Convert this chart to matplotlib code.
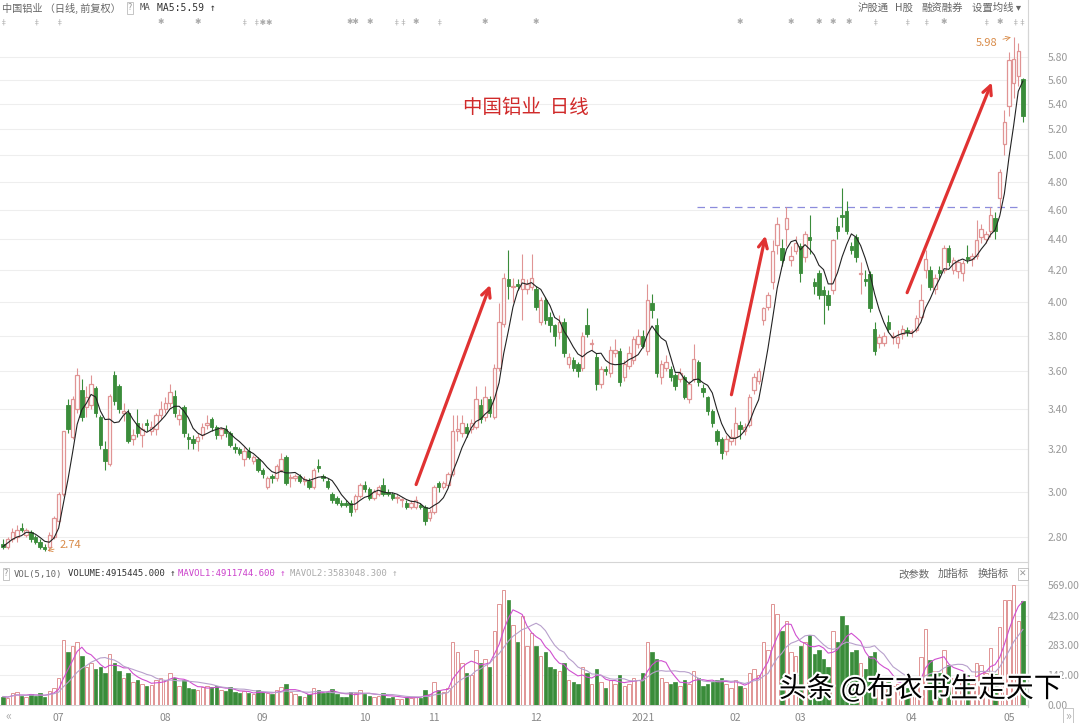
import numpy as np
import pandas as pd
import matplotlib
matplotlib.use("Agg")
import matplotlib.pyplot as plt
import matplotlib.patheffects as pe
from matplotlib.lines import Line2D
from matplotlib.ticker import FixedLocator, NullLocator, FixedFormatter

plt.rcParams['font.family'] = ['Noto Sans CJK SC', 'DejaVu Sans']

# daily candles, 2020-06 .. 2021-05 (forward adjusted)
opens = [
    2.77, 2.76, 2.79, 2.80, 2.84, 2.81, 2.82, 2.80, 2.78, 2.76,
    2.76, 2.80, 2.87, 2.99, 3.42, 3.26, 3.40, 3.50, 3.41, 3.42,
    3.51, 3.36, 3.20, 3.13, 3.58, 3.52, 3.38, 3.38, 3.25, 3.33,
    3.27, 3.33, 3.29, 3.30, 3.37, 3.40, 3.43, 3.47, 3.35, 3.41,
    3.26, 3.25, 3.24, 3.27, 3.32, 3.35, 3.31, 3.27, 3.30, 3.28,
    3.21, 3.20, 3.15, 3.19, 3.14, 3.15, 3.10, 3.02, 3.07, 3.06,
    3.10, 3.16, 3.06, 3.06, 3.07, 3.05, 3.05, 3.02, 3.12, 3.07,
    3.05, 2.99, 2.97, 2.95, 2.95, 2.95, 2.92, 2.98, 3.03, 3.01,
    2.97, 2.99, 3.03, 3.00, 2.99, 2.97, 2.96, 2.95, 2.93, 2.93,
    2.94, 2.93, 2.88, 2.91, 3.04, 3.02, 3.03, 3.08, 3.29, 3.28,
    3.31, 3.30, 3.31, 3.42, 3.36, 3.45, 3.36, 3.62, 3.87, 4.14,
    4.09, 4.11, 4.08, 4.08, 4.09, 4.08, 3.88, 4.01, 3.91, 3.86,
    3.82, 3.88, 3.64, 3.66, 3.64, 3.62, 3.86, 3.75, 3.68, 3.53,
    3.61, 3.59, 3.70, 3.71, 3.57, 3.63, 3.66, 3.75, 3.80, 3.71,
    3.99, 3.86, 3.57, 3.62, 3.61, 3.58, 3.56, 3.57, 3.45, 3.56,
    3.65, 3.51, 3.46, 3.39, 3.29, 3.25, 3.19, 3.24, 3.26, 3.32,
    3.29, 3.32, 3.50, 3.55, 3.89, 3.97, 4.12, 4.36, 4.34, 4.47,
    4.26, 4.32, 4.35, 4.28, 4.41, 4.12, 4.18, 4.07, 4.04, 4.07,
    4.49, 4.56, 4.59, 4.35, 4.41, 4.17, 4.14, 4.17, 3.84, 3.76,
    3.76, 3.88, 3.79, 3.76, 3.81, 3.83, 3.82, 3.83, 3.91, 4.20,
    4.20, 4.08, 4.20, 4.20, 4.34, 4.20, 4.19, 4.18, 4.28, 4.27,
    4.29, 4.41, 4.40, 4.45, 4.54, 4.68, 5.08, 5.38, 5.57, 5.63, 5.61,
]
highs = [
    2.79, 2.80, 2.84, 2.85, 2.86, 2.84, 2.83, 2.81, 2.79, 2.77,
    2.82, 2.89, 3.00, 3.29, 3.45, 3.47, 3.62, 3.56, 3.52, 3.58,
    3.52, 3.37, 3.24, 3.48, 3.60, 3.53, 3.43, 3.40, 3.30, 3.40,
    3.33, 3.35, 3.34, 3.38, 3.44, 3.46, 3.53, 3.50, 3.40, 3.42,
    3.28, 3.27, 3.28, 3.33, 3.37, 3.36, 3.32, 3.31, 3.32, 3.29,
    3.23, 3.21, 3.21, 3.21, 3.17, 3.16, 3.11, 3.07, 3.08, 3.13,
    3.18, 3.17, 3.08, 3.08, 3.08, 3.07, 3.06, 3.11, 3.15, 3.08,
    3.06, 3.00, 2.98, 2.96, 2.96, 2.96, 2.99, 3.04, 3.05, 3.02,
    3.01, 3.03, 3.06, 3.01, 3.00, 2.99, 2.97, 2.96, 2.96, 2.98,
    2.95, 2.94, 2.92, 3.03, 3.05, 3.05, 3.09, 3.37, 3.37, 3.37,
    3.33, 3.35, 3.52, 3.45, 3.52, 3.47, 3.64, 3.99, 4.18, 4.33,
    4.15, 4.14, 4.30, 4.14, 4.30, 4.10, 4.03, 4.03, 3.94, 3.87,
    3.92, 3.90, 3.70, 3.68, 3.65, 3.82, 3.96, 3.78, 3.70, 3.63,
    3.63, 3.74, 3.78, 3.73, 3.66, 3.74, 3.80, 3.84, 3.83, 4.11,
    4.05, 3.90, 3.66, 3.69, 3.63, 3.59, 3.62, 3.58, 3.55, 3.75,
    3.66, 3.53, 3.47, 3.40, 3.30, 3.26, 3.27, 3.30, 3.41, 3.34,
    3.33, 3.48, 3.59, 3.62, 3.97, 4.06, 4.39, 4.55, 4.40, 4.62,
    4.35, 4.42, 4.37, 4.45, 4.56, 4.15, 4.20, 4.10, 4.07, 4.40,
    4.55, 4.75, 4.66, 4.38, 4.43, 4.25, 4.20, 4.19, 3.88, 3.81,
    3.82, 3.92, 3.82, 3.83, 3.86, 3.85, 3.84, 3.92, 4.11, 4.33,
    4.22, 4.17, 4.22, 4.36, 4.36, 4.28, 4.27, 4.26, 4.36, 4.31,
    4.53, 4.50, 4.45, 4.62, 4.58, 4.89, 5.35, 5.84, 5.98, 5.92, 5.62,
]
lows = [
    2.75, 2.75, 2.78, 2.78, 2.82, 2.80, 2.78, 2.77, 2.75, 2.74,
    2.74, 2.79, 2.86, 2.98, 3.28, 3.25, 3.38, 3.34, 3.36, 3.40,
    3.36, 3.20, 3.10, 3.12, 3.42, 3.38, 3.34, 3.23, 3.22, 3.26,
    3.21, 3.29, 3.27, 3.27, 3.35, 3.38, 3.41, 3.36, 3.32, 3.26,
    3.20, 3.20, 3.19, 3.25, 3.30, 3.29, 3.25, 3.25, 3.26, 3.21,
    3.18, 3.17, 3.12, 3.15, 3.13, 3.09, 3.06, 3.01, 3.04, 3.05,
    3.09, 3.03, 3.02, 3.05, 3.04, 3.03, 3.01, 3.01, 3.09, 3.05,
    3.01, 2.95, 2.94, 2.93, 2.93, 2.89, 2.91, 2.97, 3.00, 2.96,
    2.96, 2.98, 2.98, 2.98, 2.96, 2.95, 2.93, 2.92, 2.92, 2.92,
    2.92, 2.85, 2.87, 2.90, 3.00, 3.01, 3.02, 3.07, 3.24, 3.26,
    3.26, 3.28, 3.30, 3.33, 3.34, 3.36, 3.35, 3.60, 3.85, 4.02,
    4.00, 4.07, 3.89, 4.05, 4.07, 3.95, 3.86, 3.87, 3.82, 3.74,
    3.78, 3.68, 3.62, 3.60, 3.57, 3.60, 3.79, 3.72, 3.50, 3.51,
    3.58, 3.57, 3.68, 3.52, 3.55, 3.61, 3.64, 3.73, 3.73, 3.69,
    3.90, 3.57, 3.53, 3.60, 3.55, 3.50, 3.54, 3.45, 3.43, 3.54,
    3.52, 3.46, 3.37, 3.31, 3.22, 3.15, 3.17, 3.22, 3.22, 3.25,
    3.27, 3.31, 3.48, 3.53, 3.86, 3.95, 4.08, 4.30, 4.22, 4.35,
    4.22, 4.30, 4.12, 4.25, 4.30, 4.05, 4.02, 3.87, 3.95, 4.05,
    4.40, 4.48, 4.43, 4.30, 4.25, 4.05, 4.10, 3.94, 3.69, 3.73,
    3.74, 3.82, 3.75, 3.73, 3.78, 3.80, 3.79, 3.82, 3.89, 4.15,
    4.07, 4.05, 4.15, 4.18, 4.22, 4.17, 4.15, 4.13, 4.24, 4.22,
    4.27, 4.37, 4.37, 4.41, 4.40, 4.60, 5.00, 5.30, 5.45, 5.55, 5.25,
]
closes = [
    2.76, 2.79, 2.82, 2.83, 2.83, 2.83, 2.79, 2.78, 2.76, 2.75,
    2.81, 2.88, 2.99, 3.29, 3.30, 3.45, 3.58, 3.36, 3.46, 3.53,
    3.38, 3.22, 3.14, 3.47, 3.44, 3.40, 3.39, 3.24, 3.27, 3.28,
    3.30, 3.32, 3.31, 3.37, 3.40, 3.43, 3.49, 3.38, 3.37, 3.28,
    3.25, 3.23, 3.26, 3.31, 3.33, 3.31, 3.27, 3.30, 3.28, 3.22,
    3.20, 3.18, 3.19, 3.16, 3.16, 3.10, 3.08, 3.06, 3.06, 3.12,
    3.15, 3.04, 3.06, 3.07, 3.05, 3.05, 3.02, 3.10, 3.11, 3.06,
    3.02, 2.96, 2.95, 2.94, 2.94, 2.91, 2.98, 3.03, 3.01, 2.97,
    3.00, 3.02, 2.99, 2.99, 2.97, 2.97, 2.96, 2.93, 2.95, 2.96,
    2.93, 2.87, 2.91, 3.02, 3.02, 3.04, 3.08, 3.29, 3.29, 3.33,
    3.28, 3.33, 3.45, 3.35, 3.46, 3.38, 3.62, 3.88, 4.15, 4.10,
    4.09, 4.10, 4.14, 4.11, 4.15, 3.97, 4.01, 3.89, 3.86, 3.80,
    3.88, 3.70, 3.68, 3.62, 3.60, 3.80, 3.81, 3.75, 3.53, 3.61,
    3.60, 3.72, 3.72, 3.54, 3.64, 3.70, 3.78, 3.80, 3.74, 4.01,
    3.95, 3.59, 3.64, 3.65, 3.57, 3.52, 3.59, 3.46, 3.53, 3.67,
    3.54, 3.49, 3.39, 3.33, 3.24, 3.18, 3.25, 3.26, 3.33, 3.30,
    3.31, 3.46, 3.57, 3.60, 3.96, 4.04, 4.32, 4.50, 4.26, 4.54,
    4.29, 4.37, 4.18, 4.43, 4.39, 4.10, 4.04, 4.04, 3.98, 4.39,
    4.45, 4.55, 4.45, 4.33, 4.28, 4.17, 4.13, 3.96, 3.71, 3.79,
    3.80, 3.84, 3.79, 3.79, 3.84, 3.82, 3.82, 3.90, 4.01, 4.27,
    4.09, 4.15, 4.18, 4.34, 4.25, 4.26, 4.25, 4.24, 4.27, 4.29,
    4.39, 4.47, 4.43, 4.56, 4.45, 4.87, 5.25, 5.77, 5.78, 5.85, 5.30,
]
# volume, 10k shares
volumes = [
    40, 35, 55, 60, 45, 40, 50, 45, 55, 40, 65, 80,
    130, 310, 250, 280, 300, 230, 180, 200, 170, 180, 150, 240, 200, 160, 130,
    150, 110, 120, 100, 90, 95, 120, 130,
    120, 150, 130, 90, 120, 80, 75, 70, 85, 90, 85, 90, 70, 65, 85, 60, 55, 65,
    55, 50, 70,
    60, 55, 50, 70, 85, 100, 60, 50, 45, 40, 50, 80, 70, 55, 60, 75, 50, 40, 40,
    60, 55, 70,
    50, 45, 40, 45, 55, 35, 40, 30, 30, 40, 35, 40, 35, 70, 50, 110,
    70, 60, 80, 300, 250, 200, 150, 140, 260, 200, 220, 180, 350, 480, 545, 500,
    380, 300, 420, 280, 340,
    280, 230, 250, 180, 170, 160, 200, 120, 110, 100, 180, 150, 100, 170, 110, 80,
    120, 100, 140, 90, 100, 130, 120,
    150, 300, 250, 220, 130, 110, 100, 110, 90, 120, 100, 160, 130, 90, 100, 110,
    120, 130, 100, 80,
    120, 90, 80, 150, 170, 140, 300, 260, 480, 430, 350, 400, 250, 230, 280,
    300, 330, 240, 260, 220, 180, 350, 300, 420, 380, 250, 260, 200, 170, 230, 250,
    130, 120, 110, 90, 100, 95, 80,
    90, 120, 228, 360, 213, 160, 150, 260, 190, 130, 120, 110, 140, 100, 200, 190,
    150, 270, 147, 370, 498, 498, 569, 399.5, 491.5,
]

month_labels = ["07", "08", "09", "10", "11", "12", "2021", "02", "03", "04", "05"]
month_starts = [12, 35, 56, 78, 93, 115, 138, 158, 172, 196, 217]
price_ticks = [2.8, 3.0, 3.2, 3.4, 3.6, 3.8, 4.0, 4.2, 4.4, 4.6, 4.8, 5.0, 5.2, 5.4, 5.6, 5.8]
vol_ticks = [0, 142, 283, 423, 569]

# event markers on the top strip (candle index, symbol group)
event_idx = [0, 7, 12, 34, 42, 52, 56, 75.5, 79, 85.5, 89, 94, 104, 115,
             159, 170, 176, 179, 182.5, 188, 195, 199, 203, 212, 215, 219]
event_sym = ['‡', '‡', '‡', '✱', '✱', '‡', '‡✱✱', '✱✱', '✱', '‡‡', '✱', '‡', '✱', '✱',
             '✱', '✱', '✱', '✱', '✱', '‡', '‡', '‡', '✱', '‡', '✱', '‡‡']

# hand-drawn trend arrows (from, to) in (index, price)
trend_arrows = [((88.9, 3.02), (105.3, 4.12)),
                ((157.0, 3.46), (164.6, 4.44)),
                ((194.8, 4.04), (213.5, 5.60))]
resist_level = 4.62

n = min(len(opens), len(highs), len(lows), len(closes), len(volumes))
x = np.arange(n)
o = np.array(opens[:n]); h = np.array(highs[:n]); l = np.array(lows[:n]); c = np.array(closes[:n])
v = np.array(volumes[:n], dtype=float)
up = c >= o

RED = '#e09494'
GREEN = '#3a8c3a'

W, H = 1080, 723
fig = plt.figure(figsize=(W / 100, H / 100), dpi=100)
fig.patch.set_facecolor('white')


def fx(px):
    return px / W


def fy(py):
    return 1 - py / H


def px_axes(x0, y0, x1, y1):
    return fig.add_axes([x0 / W, 1 - y1 / H, (x1 - x0) / W, (y1 - y0) / H])


ax = px_axes(0, 30, 1028, 562)
axv = px_axes(0, 582, 1028, 705)

# ---- price panel
ax.set_yscale('log')
ax.set_ylim(2.696, 6.04)
ax.set_xlim(-0.65, 221.1)
ax.vlines(x, l, h, colors=np.where(up, RED, GREEN), lw=0.8, zorder=2)
body = np.maximum(np.abs(c - o), 0.006)
ax.bar(x[up], body[up], bottom=np.minimum(o, c)[up], width=0.74,
       facecolor='white', edgecolor=RED, lw=0.9, zorder=3)
ax.bar(x[~up], body[~up], bottom=np.minimum(o, c)[~up], width=0.74,
       facecolor=GREEN, edgecolor=GREEN, lw=0.6, zorder=3)

ma5 = pd.Series(c).rolling(5, min_periods=1).mean()
ax.plot(x, ma5, color='#222222', lw=0.8, zorder=4)

for (x0, y0), (x1, y1) in trend_arrows:
    ax.annotate('', xy=(x1, y1), xytext=(x0, y0), zorder=5,
                arrowprops=dict(arrowstyle='->', color='#e03232', lw=2.3, mutation_scale=16))

ax.hlines(resist_level, 149.7, 219.8, colors='#8c8cdc', linestyles=(0, (6, 4)), lw=0.9, zorder=1)

ax.text(112.8, 5.37, '中国铝业  日线', color='#d02a2a', fontsize=14, ha='center', va='center')

lo_i = int(np.argmin(l)); hi_i = int(np.argmax(h))
ax.annotate(f'{l[lo_i]:.2f}', xy=(lo_i, l[lo_i]), xytext=(lo_i + 3.2, 2.765), color='#d98c4a',
            fontsize=8, va='center', arrowprops=dict(arrowstyle='->', color='#d98c4a', lw=0.6))
ax.annotate(f'{h[hi_i]:.2f}', xy=(hi_i, h[hi_i]), xytext=(hi_i - 3.5, 5.92), color='#d98c4a',
            fontsize=8, va='center', ha='right',
            arrowprops=dict(arrowstyle='->', color='#d98c4a', lw=0.6))

ax.yaxis.tick_right()
ax.yaxis.set_major_locator(FixedLocator(price_ticks))
ax.yaxis.set_major_formatter(FixedFormatter([f'{t:.2f}' for t in price_ticks]))
ax.yaxis.set_minor_locator(NullLocator())
ax.tick_params(axis='y', length=0, pad=14, labelsize=7.5, labelcolor='#999999')
ax.set_xticks([])
ax.grid(axis='y', color='#eeeeee', lw=0.8, zorder=0)
for s in ['top', 'left']:
    ax.spines[s].set_visible(False)
for s in ['right', 'bottom']:
    ax.spines[s].set_color('#d5d5d5')
    ax.spines[s].set_linewidth(0.8)

for i, sym in zip(event_idx, event_sym):
    ax.text(i, 1.015, sym, transform=ax.get_xaxis_transform(), fontsize=5.5,
            color='#aaaaaa', ha='center', va='center', clip_on=False)

# ---- volume panel
axv.set_xlim(-0.65, 221.1)
axv.set_ylim(0, 583)
axv.bar(x[up], v[up], width=0.74, facecolor='white', edgecolor=RED, lw=0.7, zorder=3)
axv.bar(x[~up], v[~up], width=0.74, facecolor=GREEN, edgecolor=GREEN, lw=0.5, zorder=3)
mavol1 = pd.Series(v).rolling(5, min_periods=1).mean()
mavol2 = pd.Series(v).rolling(10, min_periods=1).mean()
axv.plot(x, mavol1, color='#d050d0', lw=0.8, zorder=4)
axv.plot(x, mavol2, color='#b8a0cc', lw=0.8, zorder=4)

axv.yaxis.tick_right()
axv.set_yticks(vol_ticks)
axv.set_yticklabels([f'{t:.2f}' for t in vol_ticks])
axv.tick_params(axis='y', length=0, pad=14, labelsize=7.5, labelcolor='#999999')
axv.set_xticks(month_starts)
axv.set_xticklabels(month_labels)
axv.tick_params(axis='x', length=0, pad=6, labelsize=7.5, labelcolor='#888888')
axv.grid(axis='y', color='#eeeeee', lw=0.8, zorder=0)
for s in ['top', 'left']:
    axv.spines[s].set_visible(False)
for s in ['right', 'bottom']:
    axv.spines[s].set_color('#d5d5d5')
    axv.spines[s].set_linewidth(0.8)

fig.add_artist(Line2D([fx(1028), fx(1028)], [fy(0), fy(707)], color='#d5d5d5', lw=0.8))

# ---- header texts
mono = ['DejaVu Sans Mono', 'Noto Sans CJK SC']
box = dict(boxstyle='square,pad=0.15', fc='white', ec='#bbbbbb', lw=0.6)
fig.text(fx(2), fy(8), '中国铝业 （日线, 前复权）', fontsize=7.3, color='#666666', va='center')
fig.text(fx(130), fy(8), '?', fontsize=6.5, color='#999999', va='center', ha='center', bbox=box)
fig.text(fx(140), fy(8), 'MA', fontsize=6.5, color='#555555', va='center', family=mono)
fig.text(fx(157), fy(8), f'MA5:{ma5.iloc[-1]:.2f} ↑', fontsize=7, color='#333333',
         va='center', family=mono)
for px, t in [(858, '沪股通'), (895, 'H股'), (921, '融资融券'), (972, '设置均线 ▾')]:
    fig.text(fx(px), fy(8), t, fontsize=7.5, color='#666666', va='center')

fig.text(fx(6), fy(574), '?', fontsize=6.5, color='#999999', va='center', ha='center', bbox=box)
fig.text(fx(14), fy(574), 'VOL(5,10)', fontsize=6.5, color='#666666', va='center', family=mono)
fig.text(fx(68), fy(574), 'VOLUME:4915445.000 ↑', fontsize=6.5, color='#333333',
         va='center', family=mono)
fig.text(fx(178), fy(574), 'MAVOL1:4911744.600 ↑', fontsize=6.5, color='#cc44cc',
         va='center', family=mono)
fig.text(fx(290), fy(574), 'MAVOL2:3583048.300 ↑', fontsize=6.5, color='#aaaaaa',
         va='center', family=mono)
for px, t in [(898, '改参数'), (938, '加指标'), (978, '换指标')]:
    fig.text(fx(px), fy(574), t, fontsize=7.5, color='#666666', va='center')
fig.text(fx(1023), fy(574), '✕', fontsize=6.5, color='#999999', va='center', ha='center',
         bbox=box, family=['DejaVu Sans'])

fig.text(fx(8), fy(716), '«', fontsize=9, color='#aaaaaa', va='center', ha='center')
fig.text(fx(1068), fy(716), '»', fontsize=9, color='#aaaaaa', va='center', ha='center', bbox=box)

fig.text(fx(779), fy(689), '头条 @布衣书生走天下', fontsize=20, color='black', va='center',
         zorder=20, path_effects=[pe.withStroke(linewidth=3, foreground='white')])

fig.savefig('out.png', dpi=100, facecolor='white')
